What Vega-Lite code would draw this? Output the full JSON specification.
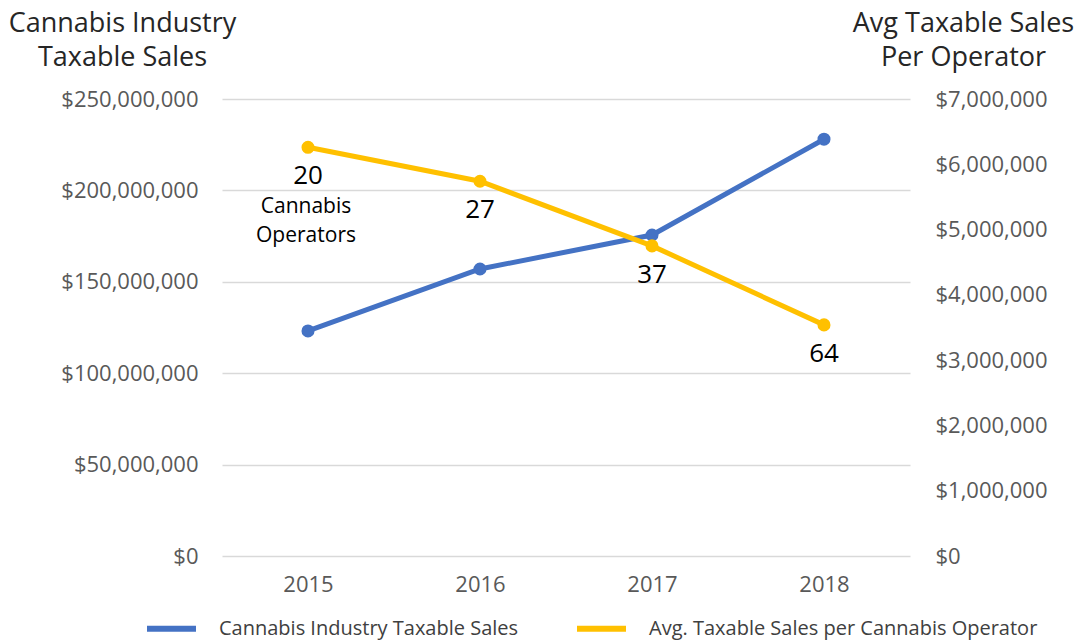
{
  "$schema": "https://vega.github.io/schema/vega-lite/v6.json",
  "width": 688,
  "height": 457,
  "autosize": {"type": "none"},
  "padding": {"left": 222, "top": 99, "right": 169, "bottom": 85},
  "background": "white",
  "config": {
    "font": "Open Sans",
    "view": {"stroke": null}
  },
  "data": {
    "values": [
      {"year": "2015", "sales": 123100000, "avg": 6260000, "operators": 20, "note": "Cannabis\nOperators"},
      {"year": "2016", "sales": 157000000, "avg": 5740000, "operators": 27, "note": ""},
      {"year": "2017", "sales": 175600000, "avg": 4750000, "operators": 37, "note": ""},
      {"year": "2018", "sales": 228000000, "avg": 3540000, "operators": 64, "note": ""}
    ]
  },
  "encoding": {
    "x": {
      "field": "year", "type": "ordinal", "title": null,
      "scale": {"type": "point", "padding": 0.5},
      "axis": {"labelAngle": 0, "domain": false, "ticks": false, "labelPadding": 18, "labelFontSize": 22, "labelColor": "#595959"}
    },
    "color": {
      "scale": {
        "domain": ["Cannabis Industry Taxable Sales", "Avg. Taxable Sales per Cannabis Operator"],
        "range": ["#4472C4", "#FFC000"]
      },
      "legend": {
        "title": null, "orient": "none", "direction": "horizontal",
        "legendX": -78, "legendY": 502,
        "symbolType": "stroke", "symbolSize": 2400, "symbolStrokeWidth": 6,
        "labelFontSize": 20, "labelColor": "#404040", "labelOffset": 20, "labelLimit": 600,
        "columnPadding": 46, "symbolOpacity": 1
      }
    }
  },
  "layer": [
    {
      "encoding": {
        "y": {
          "field": "sales", "type": "quantitative",
          "scale": {"domain": [0, 250000000]},
          "axis": {
            "orient": "left", "values": [0, 50000000, 100000000, 150000000, 200000000, 250000000],
            "format": "$,d", "domain": false, "ticks": false, "grid": true, "gridColor": "#d9d9d9", "gridWidth": 1.5,
            "labelPadding": 24, "labelFontSize": 22, "labelColor": "#595959",
            "title": ["Cannabis Industry", "Taxable Sales"], "titleAngle": 0, "titleAlign": "center", "titleBaseline": "alphabetic",
            "titleX": -100, "titleY": -68, "titleFontSize": 27, "titleFontWeight": "normal", "titleColor": "#262626", "titleLineHeight": 34
          }
        },
        "color": {"datum": "Cannabis Industry Taxable Sales"}
      },
      "layer": [
        {"mark": {"type": "line", "strokeWidth": 5}},
        {"mark": {"type": "point", "filled": true, "opacity": 1, "size": 170}}
      ]
    },
    {
      "encoding": {
        "y": {
          "field": "avg", "type": "quantitative",
          "scale": {"domain": [0, 7000000]},
          "axis": {
            "orient": "right", "values": [0, 1000000, 2000000, 3000000, 4000000, 5000000, 6000000, 7000000],
            "format": "$,d", "domain": false, "ticks": false, "grid": false,
            "labelPadding": 25, "labelFontSize": 22, "labelColor": "#595959",
            "title": ["Avg Taxable Sales", "Per Operator"], "titleAngle": 0, "titleAlign": "center", "titleBaseline": "alphabetic",
            "titleX": 53, "titleY": -68, "titleFontSize": 27, "titleFontWeight": "normal", "titleColor": "#262626", "titleLineHeight": 34
          }
        },
        "color": {"datum": "Avg. Taxable Sales per Cannabis Operator"}
      },
      "layer": [
        {"mark": {"type": "line", "strokeWidth": 5}},
        {"mark": {"type": "point", "filled": true, "opacity": 1, "size": 170}},
        {"mark": {"type": "text", "dy": 29, "fontSize": 26, "color": "black", "baseline": "middle"}, "encoding": {"text": {"field": "operators"}, "color": {"value": "black"}}},
        {"mark": {"type": "text", "dy": 60, "dx": -2, "fontSize": 21, "color": "black", "baseline": "middle", "lineBreak": "\n", "lineHeight": 29}, "encoding": {"text": {"field": "note"}, "color": {"value": "black"}}}
      ]
    }
  ],
  "resolve": {"scale": {"y": "independent"}}
}
